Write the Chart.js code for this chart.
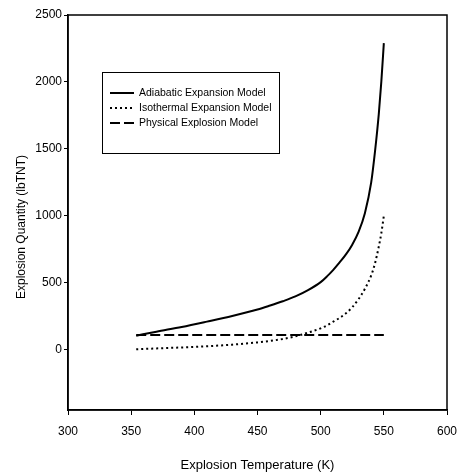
<!DOCTYPE html>
<html>
<head>
<meta charset="utf-8">
<script src="https://cdn.jsdelivr.net/npm/chart.js@4.4.0/dist/chart.umd.min.js"></script>
<style>
  html, body { margin: 0; padding: 0; background: #fff; }
  #wrap { width: 459px; height: 476px; }
</style>
</head>
<body>
<div id="wrap"><canvas id="chart" width="459" height="476"></canvas></div>
<script>
// Explosion quantity vs explosion temperature, three models

const temps = [354, 370, 390, 410, 430, 450, 460, 470, 480, 490, 500, 505, 510, 515, 520, 525, 530, 535, 540, 543, 546, 548, 550];
const adiabatic = [105, 135, 170, 210, 252, 300, 330, 362, 398, 445, 505, 548, 597, 652, 712, 785, 880, 1020, 1250, 1480, 1760, 2000, 2290];
const isothermal = [3, 10, 17, 26, 38, 55, 66, 80, 100, 128, 160, 182, 210, 238, 272, 318, 378, 455, 555, 645, 770, 870, 1000];
const physicalTemps = [354, 550];
const physical = [110, 110];

const xTicks = [300, 350, 400, 450, 500, 550, 600];
const yTicks = [0, 500, 1000, 1500, 2000, 2500];

const seriesNames = ['Adiabatic Expansion Model', 'Isothermal Expansion Model', 'Physical Explosion Model'];
const yTitle = 'Explosion Quantity (lbTNT)';

const FONT = 'Liberation Sans, Arial, sans-serif';

function toPoints(xs, ys) {
    return xs.map((x, i) => ({ x: x, y: ys[i] }));
}

// frame round the plot area, legend box and the y title
const framePlugin = {
    id: 'frame',
    afterDatasetsDraw(chart) {
        const { ctx, chartArea: a } = chart;
        ctx.save();
        ctx.strokeStyle = '#000';
        ctx.lineWidth = 1.5;
        ctx.strokeRect(a.left, a.top, a.right - a.left, a.bottom - a.top);

        // legend
        const bx = 102, by = 72, bw = 177, bh = 81;
        ctx.fillStyle = '#fff';
        ctx.fillRect(bx, by, bw, bh);
        ctx.lineWidth = 1;
        ctx.strokeRect(bx + 0.5, by + 0.5, bw, bh);
        ctx.font = '10.5px ' + FONT;
        ctx.textBaseline = 'middle';
        ctx.fillStyle = '#000';
        chart.data.datasets.forEach((ds, i) => {
            const y = 93 + i * 15;
            ctx.beginPath();
            ctx.lineWidth = ds.borderWidth;
            ctx.setLineDash(ds.borderDash || []);
            ctx.moveTo(110, y);
            ctx.lineTo(134, y);
            ctx.stroke();
            ctx.setLineDash([]);
            ctx.fillText(ds.label, 139, y);
        });

        // y axis title
        ctx.translate(22, 227);
        ctx.rotate(-Math.PI / 2);
        ctx.font = '12px ' + FONT;
        ctx.textAlign = 'center';
        ctx.fillText(yTitle, 0, 0);
        ctx.restore();
    }
};

const ctx = document.getElementById('chart').getContext('2d');
const chart = new Chart(ctx, {
    type: 'line',
    data: {
        datasets: [
            {
                label: seriesNames[0],
                data: toPoints(temps, adiabatic),
                borderColor: '#000',
                borderWidth: 2,
                pointRadius: 0,
                cubicInterpolationMode: 'monotone'
            },
            {
                label: seriesNames[1],
                data: toPoints(temps, isothermal),
                borderColor: '#000',
                borderWidth: 2,
                borderDash: [2, 3],
                pointRadius: 0,
                cubicInterpolationMode: 'monotone'
            },
            {
                label: seriesNames[2],
                data: toPoints(physicalTemps, physical),
                borderColor: '#000',
                borderWidth: 2,
                borderDash: [10, 4],
                pointRadius: 0
            }
        ]
    },
    options: {
        responsive: false,
        animation: false,
        layout: { padding: { top: 15, right: 12, left: 0, bottom: 0 } },
        plugins: {
            legend: { display: false },
            tooltip: { enabled: false }
        },
        scales: {
            x: {
                type: 'linear',
                min: 300,
                max: 600,
                afterBuildTicks: s => { s.ticks = xTicks.map(v => ({ value: v })); },
                afterFit: s => { s.height = 66; s.paddingLeft = 0; s.paddingRight = 0; },
                grid: { display: true, drawOnChartArea: false, drawTicks: true, tickLength: 5, color: '#000' },
                border: { display: true, color: '#000', width: 1.5 },
                ticks: { color: '#000', padding: 9, font: { family: FONT, size: 12 }, maxRotation: 0 },
                title: {
                    display: true,
                    text: 'Explosion Temperature (K)',
                    color: '#000',
                    font: { family: FONT, size: 13 },
                    padding: { top: 0, bottom: 3 }
                }
            },
            y: {
                type: 'linear',
                min: -450,
                max: 2500,
                afterBuildTicks: s => { s.ticks = yTicks.map(v => ({ value: v })); },
                afterFit: s => { s.width = 68; s.paddingTop = 0; s.paddingBottom = 0; },
                grid: { display: true, drawOnChartArea: false, drawTicks: true, tickLength: 4, color: '#000' },
                border: { display: true, color: '#000', width: 1.5 },
                ticks: { color: '#000', padding: 2, font: { family: FONT, size: 12 }, callback: v => String(v) },
                title: { display: false }
            }
        }
    },
    plugins: [framePlugin]
});
</script>
</body>
</html>
